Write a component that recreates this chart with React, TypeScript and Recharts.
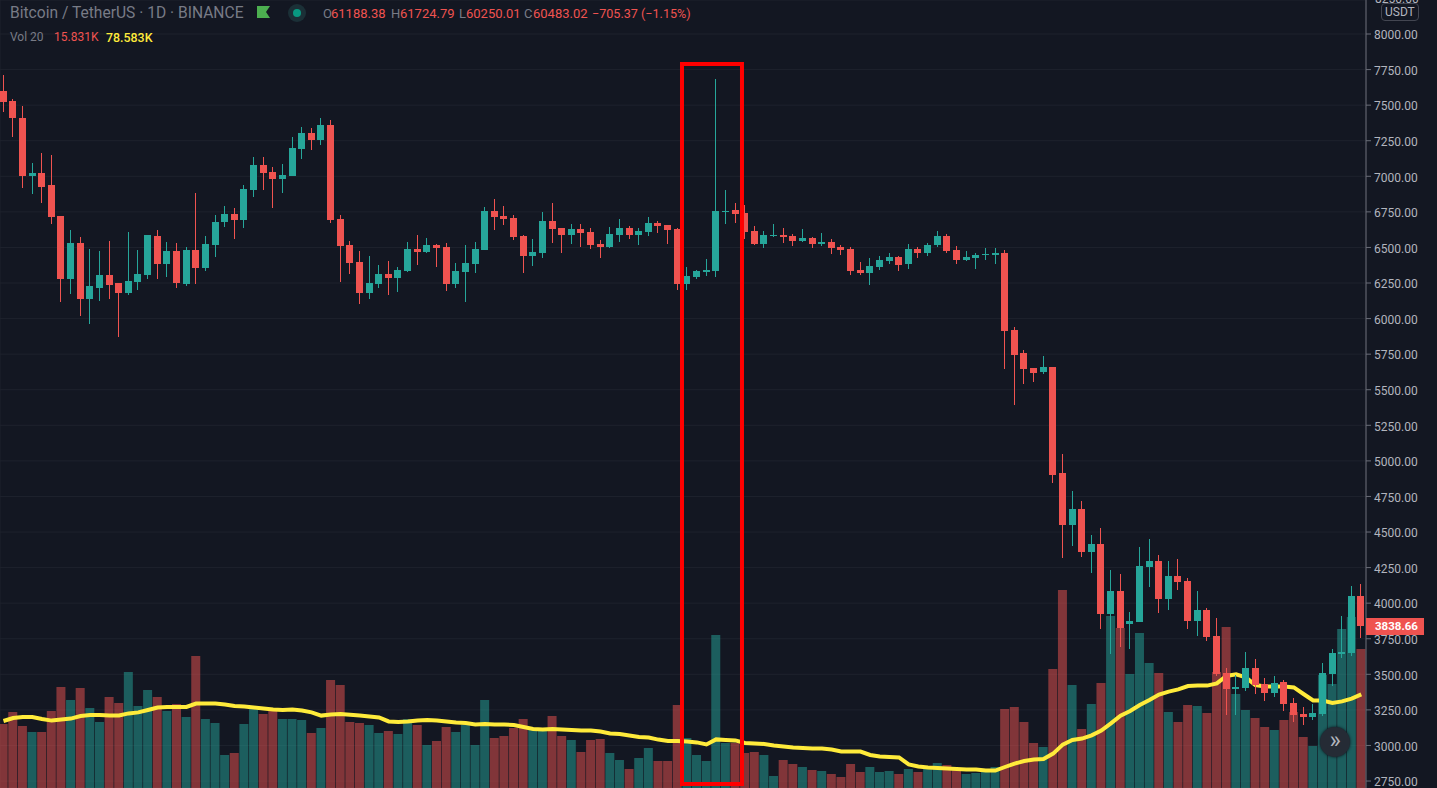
import { Bar, CartesianGrid, Cell, ComposedChart, Line, ReferenceArea, XAxis, YAxis } from "recharts";

const opens = [
  7599, 7529, 7410, 7002, 7023, 6939, 6721, 6278, 6531, 6137,
  6215, 6306, 6250, 6179, 6257, 6306, 6580, 6383, 6475, 6243,
  6482, 6355, 6517, 6678, 6735, 6693, 6903, 7079, 7030, 6981,
  7002, 7192, 7304, 7255, 7360, 6700, 6517, 6398, 6180, 6243,
  6313, 6285, 6334, 6489, 6468, 6517, 6503, 6243, 6327, 6384,
  6482, 6756, 6721, 6707, 6580, 6440, 6461, 6686, 6637, 6587,
  6630, 6609, 6524, 6503, 6587, 6637, 6587, 6609, 6672, 6658,
  6629, 6243, 6292, 6327, 6334, 6749, 6763, 6742, 6615, 6524,
  6580, 6587, 6580, 6545, 6566, 6524, 6538, 6503, 6489, 6341,
  6320, 6362, 6404, 6432, 6383, 6489, 6461, 6517, 6580, 6482,
  6411, 6425, 6447, 6447, 6461, 5919, 5758, 5652, 5624, 5659,
  4914, 4549, 4661, 4359, 4415, 3923, 4085, 3853, 3867, 4254,
  4296, 4029, 4190, 4155, 3874, 3952, 3769, 3509, 3396, 3403,
  3544, 3431, 3368, 3446, 3298, 3221, 3200, 3221, 3502, 3642,
  3649, 4050,
];

const highs = [
  7712, 7543, 7494, 7093, 7163, 7149, 6721, 6622, 6573, 6489,
  6475, 6545, 6250, 6608, 6482, 6587, 6622, 6538, 6531, 6503,
  6882, 6580, 6728, 6791, 6777, 6939, 7135, 7135, 7065, 7086,
  7276, 7346, 7339, 7409, 7395, 6728, 6545, 6475, 6440, 6377,
  6405, 6360, 6538, 6587, 6566, 6524, 6531, 6391, 6517, 6538,
  6784, 6840, 6791, 6728, 6587, 6559, 6749, 6812, 6637, 6665,
  6665, 6637, 6552, 6644, 6700, 6651, 6637, 6714, 6686, 6658,
  6636, 6362, 6341, 6418, 7683, 6903, 6812, 6798, 6650, 6615,
  6664, 6636, 6594, 6629, 6573, 6601, 6559, 6517, 6503, 6397,
  6425, 6439, 6461, 6439, 6524, 6503, 6531, 6615, 6594, 6510,
  6475, 6461, 6496, 6496, 6482, 5941, 5779, 5652, 5737, 5659,
  5048, 4788, 4718, 4479, 4528, 4233, 4205, 3938, 4394, 4450,
  4338, 4296, 4310, 4177, 4085, 3966, 3895, 3544, 3495, 3656,
  3607, 3474, 3488, 3460, 3333, 3270, 3291, 3579, 3678, 3909,
  4120, 4134,
];

const lows = [
  7452, 7276, 6918, 6875, 6812, 6664, 6116, 6172, 6018, 5962,
  6123, 6137, 5870, 6165, 6201, 6278, 6278, 6292, 6215, 6229,
  6243, 6334, 6432, 6643, 6559, 6636, 6854, 6903, 6777, 6882,
  7002, 7121, 7184, 7220, 6671, 6257, 6313, 6103, 6138, 6215,
  6166, 6187, 6327, 6377, 6461, 6363, 6194, 6215, 6117, 6320,
  6482, 6623, 6658, 6552, 6320, 6370, 6426, 6531, 6461, 6524,
  6503, 6489, 6426, 6496, 6538, 6559, 6517, 6580, 6602, 6524,
  6201, 6201, 6278, 6299, 6292, 6664, 6671, 6559, 6517, 6496,
  6573, 6531, 6510, 6538, 6496, 6510, 6454, 6447, 6306, 6306,
  6236, 6341, 6383, 6334, 6348, 6425, 6439, 6503, 6461, 6383,
  6404, 6348, 6411, 6383, 5645, 5392, 5540, 5554, 5610, 4844,
  4317, 4401, 4324, 4212, 3818, 3643, 3692, 3678, 3867, 4113,
  3930, 3952, 4092, 3818, 3769, 3734, 3488, 3214, 3214, 3382,
  3361, 3312, 3340, 3242, 3164, 3143, 3179, 3207, 3418, 3614,
  3628, 3755,
];

const closes = [
  7522, 7410, 7002, 7023, 6925, 6714, 6278, 6531, 6137, 6229,
  6306, 6236, 6179, 6264, 6313, 6587, 6383, 6475, 6250, 6482,
  6355, 6524, 6678, 6735, 6693, 6910, 7079, 7023, 6981, 7009,
  7199, 7304, 7255, 7360, 6693, 6510, 6391, 6180, 6250, 6313,
  6285, 6341, 6489, 6468, 6517, 6496, 6243, 6334, 6391, 6489,
  6756, 6714, 6700, 6573, 6440, 6468, 6686, 6630, 6587, 6630,
  6601, 6517, 6503, 6595, 6637, 6587, 6616, 6672, 6651, 6623,
  6243, 6299, 6334, 6341, 6756, 6756, 6735, 6608, 6524, 6587,
  6587, 6573, 6545, 6566, 6524, 6538, 6496, 6482, 6334, 6320,
  6369, 6411, 6432, 6376, 6489, 6461, 6517, 6580, 6475, 6411,
  6432, 6447, 6454, 6461, 5912, 5744, 5645, 5617, 5659, 4900,
  4549, 4661, 4359, 4415, 3923, 4085, 3825, 3874, 4261, 4296,
  4029, 4190, 4148, 3874, 3952, 3762, 3502, 3396, 3410, 3544,
  3425, 3368, 3439, 3291, 3214, 3200, 3228, 3509, 3649, 3656,
  4050, 3838.66,
];

// thousands of BTC
const volumes = [
  32, 38, 31, 28, 28, 38.5, 50.5, 44, 50, 40,
  33, 45.5, 42.5, 58, 41, 49, 45.5, 38.5, 42, 35.5,
  66, 34.5, 32.5, 16.5, 17.5, 32, 39.5, 37, 39, 34.5,
  34.5, 34, 27.5, 30, 54, 51.5, 33, 32.5, 31.5, 27.5,
  28.5, 27, 34.5, 31.5, 21.5, 23.5, 30.5, 28, 31.5, 21.5,
  44, 25, 26, 30, 34.5, 29, 29, 36, 26, 24,
  18, 24, 24.5, 17.5, 14, 9.5, 15, 20, 13.5, 13.5,
  41.5, 25, 16.5, 13.5, 76.5, 22.5, 22.5, 17.5, 18, 16.5,
  6, 14, 12, 10.5, 9, 8.5, 7, 5.5, 12, 8,
  10.5, 8, 8.5, 7, 9.5, 8, 9.5, 12.5, 11.5, 9,
  7, 7.5, 9, 10.5, 39.5, 40.5, 33, 22.5, 20.5, 59.5,
  99, 51.5, 29.5, 42, 52.5, 86, 80, 57, 77.5, 62.5,
  57.5, 38, 33, 41.5, 41, 37.5, 58, 80.5, 47, 39,
  35, 30.5, 29, 34, 38, 25.5, 21, 56.5, 52, 79.5,
  85.5, 69.5,
];

const volumeMa = [
  33.5, 35, 35.5, 35.5, 34.5, 33.7, 34.3, 34.7, 36, 36.5,
  36.5, 36.3, 36.3, 37.3, 37.8, 39, 40.2, 40.5, 40.5, 40.5,
  42.2, 42.2, 42.2, 41.7, 41, 40.7, 40.2, 39.8, 39.2, 39,
  39.2, 38.7, 37.8, 36.2, 36.7, 37, 36.6, 36.3, 35.8, 35.3,
  33.3, 33, 33.2, 33.8, 34, 33.7, 33.2, 32.7, 32.5, 31.8,
  32, 31.8, 31.7, 31.5, 30.5, 29.5, 29.3, 29.5, 29.2, 29,
  28.7, 28.7, 28.2, 27.3, 27, 26.3, 25.5, 25.2, 24.2, 23.5,
  23.5, 23.2, 22.8, 21.8, 24.3, 24, 23.8, 22.5, 22.3, 22,
  21.3, 20.8, 20.3, 20, 19.7, 19.7, 19.2, 18.3, 18.2, 18.2,
  16.5, 15.8, 15.5, 15.3, 11.8, 10.8, 10.3, 10, 9.7, 9.5,
  9.3, 9.2, 8.8, 8.7, 10.5, 12.2, 13.5, 14.2, 14.5, 17.2,
  21.7, 24, 24.7, 26.3, 28.7, 32.3, 36.2, 38.5, 41.5, 44,
  46.7, 48.2, 49.3, 51, 51.2, 51.2, 52.3, 56, 56.8, 55.3,
  51.5, 50.8, 50.7, 50.7, 50.3, 47, 43.8, 43.7, 42.5, 43.3,
  44.7, 46.8,
];

const priceTicks = [
  2750, 3000, 3250, 3500, 3750, 4000, 4250, 4500, 4750, 5000, 5250, 5500,
  5750, 6000, 6250, 6500, 6750, 7000, 7250, 7500, 7750, 8000,
];
const gridDays = [-0.3, 11, 20, 30, 39, 48, 60, 74, 91, 102, 111, 121, 130, 139];
const dayDomain = [-0.36, 141.49];

const UP = "#26A69A";
const DOWN = "#EF5350";
const FONT = "Roboto, sans-serif";

const bars = opens.map((open, i) => ({
  day: i,
  open,
  high: highs[i],
  low: lows[i],
  close: closes[i],
  vol: volumes[i],
  ma: volumeMa[i],
}));

// the Bar spans low..high, the body is placed inside that span
function Candle(props: any) {
  const { x, y, width, height, payload } = props;
  const { open, high, low, close } = payload;
  const perUnit = height / (high - low);
  const top = y + (high - Math.max(open, close)) * perUnit;
  const bottom = y + (high - Math.min(open, close)) * perUnit;
  const color = close >= open ? UP : DOWN;
  const left = Math.round(x);
  return (
    <g shapeRendering="crispEdges">
      <rect x={left + 3} y={y} width={1} height={height} fill={color} />
      <rect x={left} y={top} width={width} height={Math.max(bottom - top, 1)} fill={color} />
    </g>
  );
}

const at = (left: number, top: number, extra: any = {}) => ({
  position: "absolute" as const,
  left,
  top,
  whiteSpace: "nowrap" as const,
  ...extra,
});

function Legend() {
  const grey = "#787B86";
  return (
    <div style={{ fontFamily: FONT, fontSize: 13 }}>
      <span style={at(10, 4, { color: grey, fontSize: 15.6 })}>Bitcoin / TetherUS · 1D · BINANCE</span>
      <svg style={at(257, 6)} width={13} height={13}>
        <path d="M0 0H13L9 6L13 12H0Z" fill="#4CAF50" />
      </svg>
      <svg style={at(288, 4)} width={18} height={18}>
        <circle cx={9} cy={9} r={9} fill="#1B3037" />
        <circle cx={9} cy={9} r={4} fill="#089981" />
      </svg>
      <span style={at(323, 6, { color: grey })}>O</span>
      <span style={at(331, 6, { color: DOWN })}>61188.38</span>
      <span style={at(391, 6, { color: grey })}>H</span>
      <span style={at(400, 6, { color: DOWN })}>61724.79</span>
      <span style={at(459, 6, { color: grey })}>L</span>
      <span style={at(466, 6, { color: DOWN })}>60250.01</span>
      <span style={at(524, 6, { color: grey })}>C</span>
      <span style={at(533, 6, { color: DOWN })}>60483.02</span>
      <span style={at(592, 6, { color: DOWN, fontSize: 12.6 })}>−705.37 (−1.15%)</span>
      <span style={at(10, 30, { color: grey, fontSize: 12 })}>Vol 20</span>
      <span style={at(54, 30, { color: DOWN, fontSize: 12 })}>15.831K</span>
      <span style={at(106, 30, { color: "#FFEB3B", fontSize: 12.4, fontWeight: 500 })}>78.583K</span>
    </div>
  );
}

function PriceBadges() {
  return (
    <div style={{ fontFamily: FONT, fontSize: 12 }}>
      <span style={at(1375, -8, { color: "#B2B5BE" })}>8250.00</span>
      <span
        style={at(1381, 3, {
          color: "#B2B5BE",
          background: "#131722",
          border: "1px solid #434651",
          borderRadius: 4,
          padding: "1px 3px",
          lineHeight: "14px",
        })}
      >
        USDT
      </span>
      <span
        style={at(1366, 618, {
          color: "#fff",
          background: DOWN,
          fontWeight: 700,
          fontSize: 11.5,
          boxSizing: "border-box",
          paddingLeft: 9,
          width: 58,
          height: 17,
          lineHeight: "17px",
        })}
      >
        3838.66
      </span>
      <span
        style={at(1320, 727, {
          width: 30,
          height: 30,
          borderRadius: 15,
          background: "#252B35",
          boxShadow: "0 0 3px #0c0f16",
          color: "#B2B5BE",
          fontSize: 24,
          lineHeight: "27px",
          textAlign: "center",
        })}
      >
        »
      </span>
    </div>
  );
}

export default function App() {
  return (
    <div style={{ position: "absolute", left: 0, top: 0, width: 1437, height: 788, background: "#131722", overflow: "hidden" }}>
      <ComposedChart width={1437} height={788} data={bars} margin={{ top: 0, right: 0, bottom: 0, left: 0 }}>
        <CartesianGrid xAxisId="days" yAxisId="price" stroke="#1E222D" strokeWidth={1} />
        <XAxis
          xAxisId="days"
          dataKey="day"
          type="number"
          domain={dayDomain}
          ticks={gridDays}
          interval={0}
          tick={false}
          axisLine={false}
          tickLine={false}
          height={0}
          allowDataOverflow
        />
        {/* second x axis so the volume bars do not share slots with the candles */}
        <XAxis
          xAxisId="volumeDays"
          dataKey="day"
          type="number"
          domain={dayDomain}
          tick={false}
          axisLine={false}
          tickLine={false}
          height={0}
          allowDataOverflow
        />
        <YAxis
          yAxisId="price"
          orientation="right"
          domain={[2701, 8239]}
          ticks={priceTicks}
          interval={0}
          width={71}
          tickSize={5}
          tickMargin={3}
          tick={{ fill: "#B2B5BE", fontSize: 12, fontFamily: FONT, dy: 1 }}
          tickFormatter={(v: number) => v.toFixed(2)}
          stroke="#6A6D78"
          allowDataOverflow
        />
        <YAxis yAxisId="volume" hide domain={[0, 394]} allowDataOverflow />
        <Bar xAxisId="volumeDays" yAxisId="volume" dataKey="vol" barSize={9} isAnimationActive={false}>
          {bars.map((b) => (
            <Cell key={b.day} fill={b.close >= b.open ? "rgba(38,166,154,0.5)" : "rgba(239,83,80,0.5)"} />
          ))}
        </Bar>
        <Line
          xAxisId="volumeDays"
          yAxisId="volume"
          dataKey="ma"
          type="linear"
          stroke="#FFEB3B"
          strokeWidth={4}
          dot={false}
          activeDot={false}
          isAnimationActive={false}
        />
        <Bar
          xAxisId="days"
          yAxisId="price"
          dataKey={(d: any) => [d.low, d.high]}
          barSize={7}
          shape={Candle}
          zIndex={500}
          isAnimationActive={false}
        />
        <ReferenceArea
          xAxisId="days"
          yAxisId="price"
          x1={70.46}
          x2={76.69}
          y1={2729}
          y2={7789}
          fill="none"
          stroke="#FF0000"
          strokeWidth={4}
          zIndex={600}
        />
      </ComposedChart>
      <Legend />
      <PriceBadges />
    </div>
  );
}
